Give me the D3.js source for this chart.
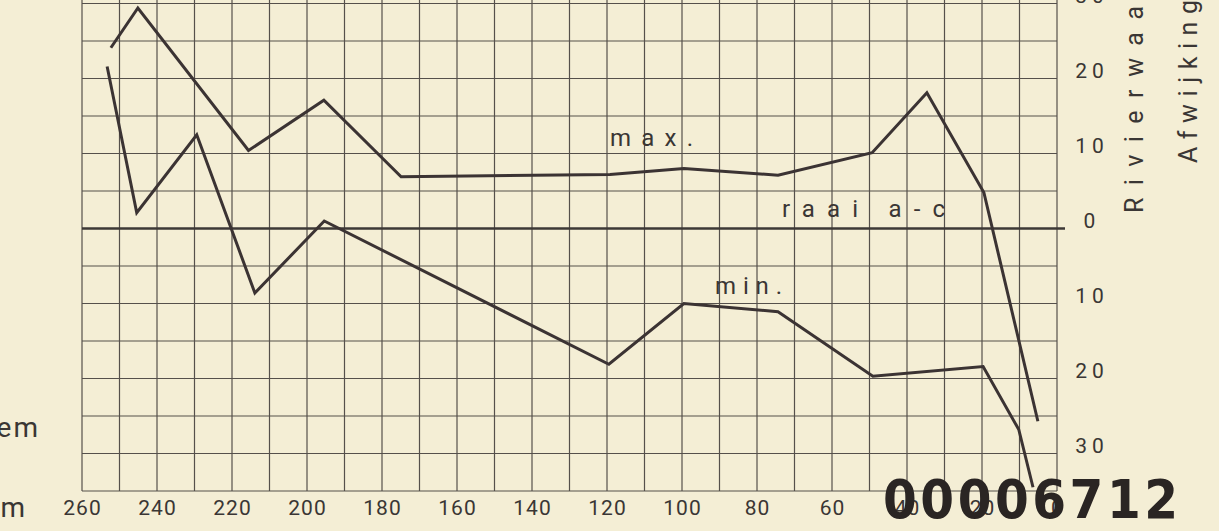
<!DOCTYPE html>
<html>
<head>
<meta charset="utf-8">
<script src="https://cdnjs.cloudflare.com/ajax/libs/d3/7.8.5/d3.min.js"></script>
<style>
  body { margin: 0; background: #f4eed5; }
  svg { display: block; }
  text { font-family: Roboto, 'DejaVu Sans', sans-serif; font-weight: 400; fill: #3a3634; }
</style>
</head>
<body>
<div id="chart"></div>
<script>
  // distance along raai a-c (m) and deviation (cm)
  const maxDist = [252.3, 245.1, 215.6, 195.5, 174.9, 119.2, 99.5, 74.4, 49.3, 34.7, 19.5, 5.1];
  const maxDev  = [24.1, 29.4, 10.4, 17.1, 6.9, 7.2, 8.0, 7.1, 10.1, 18.1, 4.8, -25.7];
  const minDist = [253.3, 245.4, 229.4, 213.9, 195.4, 119.5, 99.5, 74.4, 49.1, 19.7, 10.2, 6.4];
  const minDev  = [21.6, 2.1, 12.5, -8.6, 1.0, -18.1, -10.0, -11.1, -19.7, -18.4, -26.8, -34.5];

  const xTicks = [260, 240, 220, 200, 180, 160, 140, 120, 100, 80, 60, 40, 20, 0];
  const yTicks = [30, 20, 10, 0, -10, -20, -30];
  const yTickLabels = ['30', '20', '10', '0', '10', '20', '30'];

  const width = 1219, height = 531;

  const x = d3.scaleLinear().domain([260, 0]).range([82, 1057]);
  const y = d3.scaleLinear().domain([0, -35]).range([228.5, 491]);

  const svg = d3.select('#chart').append('svg')
    .attr('width', width)
    .attr('height', height);

  // graph paper
  const grid = svg.append('g')
    .attr('stroke', '#55504b')
    .attr('stroke-width', 1.2);

  grid.selectAll('line.v')
    .data(d3.range(0, 261, 10))
    .join('line')
      .attr('class', 'v')
      .attr('x1', d => x(d)).attr('x2', d => x(d))
      .attr('y1', y(35)).attr('y2', y(-35));

  grid.selectAll('line.h')
    .data(d3.range(-35, 36, 5))
    .join('line')
      .attr('class', 'h')
      .attr('x1', x(260)).attr('x2', x(0))
      .attr('y1', d => y(d)).attr('y2', d => y(d));

  // raai a-c reference line
  svg.append('line')
    .attr('x1', x(260)).attr('x2', x(0) + 8)
    .attr('y1', y(0)).attr('y2', y(0))
    .attr('stroke', '#3d3836')
    .attr('stroke-width', 2.6);

  const line = d3.line()
    .x(d => x(d[0]))
    .y(d => y(d[1]));

  svg.append('path')
    .datum(d3.zip(maxDist, maxDev))
    .attr('d', line)
    .attr('fill', 'none')
    .attr('stroke', '#3b3333')
    .attr('stroke-width', 3);

  svg.append('path')
    .datum(d3.zip(minDist, minDev))
    .attr('d', line)
    .attr('fill', 'none')
    .attr('stroke', '#3b3333')
    .attr('stroke-width', 3);

  // bottom axis
  const xAxis = svg.append('g')
    .attr('transform', `translate(0,${y(-35)})`)
    .call(d3.axisBottom(x).tickValues(xTicks).tickSize(0).tickPadding(9).tickFormat(d3.format('d')));
  xAxis.select('.domain').remove();
  xAxis.selectAll('text')
    .attr('fill', '#3a3634')
    .style('font-size', '21px')
    .style('letter-spacing', '1px');

  // right axis
  const yAxis = svg.append('g')
    .attr('transform', `translate(${x(0)},0)`)
    .call(d3.axisRight(y).tickValues(yTicks).tickSize(0)
      .tickFormat((d, i) => yTickLabels[i]));
  yAxis.select('.domain').remove();
  yAxis.selectAll('text')
    .attr('x', 35)
    .attr('text-anchor', 'middle')
    .attr('transform', 'translate(0,-8)')
    .attr('fill', '#3a3634')
    .style('font-size', '21px')
    .style('letter-spacing', '5px');

  // lettering on the sheet
  const label = (txt, px, py, size, len) => svg.append('text')
    .attr('x', px).attr('y', py)
    .attr('textLength', len)
    .attr('lengthAdjust', 'spacing')
    .style('font-size', size + 'px')
    .text(txt);

  label('max.', 610, 146, 24, 83);
  label('raai a-c', 782, 217, 24, 163);
  label('min.', 715, 294, 24, 67);

  svg.append('text')
    .attr('transform', 'translate(1143,213) rotate(-90)')
    .attr('textLength', 207)
    .attr('lengthAdjust', 'spacing')
    .style('font-size', '25px')
    .text('Rivierwaa');

  svg.append('text')
    .attr('transform', 'translate(1197,163) rotate(-90)')
    .attr('textLength', 163)
    .attr('lengthAdjust', 'spacing')
    .style('font-size', '25px')
    .text('Afwijking');

  svg.append('text')
    .attr('x', 40).attr('y', 437)
    .attr('text-anchor', 'end')
    .style('font-size', '28px')
    .style('letter-spacing', '2px')
    .text('em');

  svg.append('text')
    .attr('x', 25).attr('y', 517)
    .attr('text-anchor', 'end')
    .style('font-size', '28px')
    .text('m');

  // archive stamp
  svg.append('text')
    .attr('x', 883).attr('y', 518)
    .attr('textLength', 295)
    .attr('lengthAdjust', 'spacing')
    .style('font-family', "'DejaVu Sans Condensed', 'DejaVu Sans', sans-serif")
    .style('font-weight', 700)
    .style('font-size', '54px')
    .style('fill', '#2a2523')
    .text('00006712');
</script>
</body>
</html>
